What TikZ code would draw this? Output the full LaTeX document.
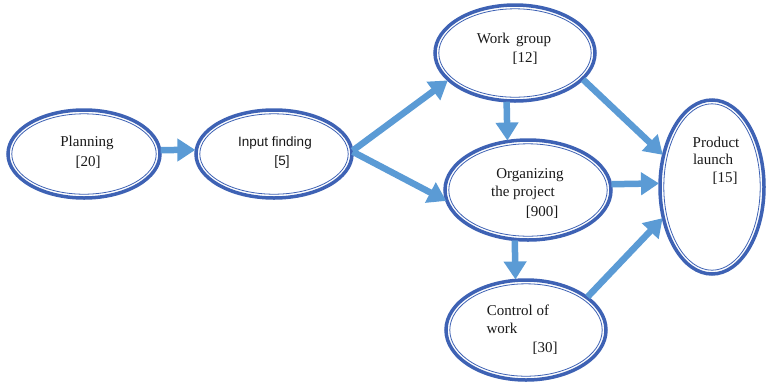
\documentclass[tikz,border=0pt]{standalone}
\usepackage{fontspec}
\setmainfont{Liberation Serif}
\newfontfamily\lsans{Liberation Sans}
\usetikzlibrary{arrows.meta,shapes.geometric}
\definecolor{ovalblue}{RGB}{62,98,180}
\definecolor{arrowblue}{RGB}{91,155,213}
\tikzset{
  oval/.style={ellipse, draw=ovalblue, line width=3.5pt, inner sep=0pt, outer sep=0pt, fill=white},
  inner/.style={draw=ovalblue, line width=0.8pt},
  lbl/.style={inner sep=0pt, font=\fontsize{15}{17}\selectfont, text=black!90},
  slbl/.style={inner sep=0pt, font=\lsans\fontsize{13.5}{15}\selectfont, text=black!90},
  flow/.style={draw=arrowblue, line width=6.5pt, -{Triangle[length=18pt,width=22pt]}, shorten >=1pt, shorten <=1pt}
}
\begin{document}
\begin{tikzpicture}[x=1pt,y=-1pt]
\useasboundingbox (0,0) rectangle (766,384);
% ellipses
\node[oval, minimum width=152pt, minimum height=88pt] (plan) at (84,154) {};
\node[oval, minimum width=156pt, minimum height=88pt] (input) at (274,154) {};
\node[oval, minimum width=160pt, minimum height=96pt] (work) at (515,53) {};
\node[oval, minimum width=166pt, minimum height=100pt] (org) at (528,190) {};
\node[oval, minimum width=160pt, minimum height=100pt] (ctrl) at (526,330) {};
\node[oval, minimum width=104pt, minimum height=174pt] (prod) at (712,187) {};
% inner lines of the double borders
\draw[inner] (plan.center) ellipse[x radius=72.2, y radius=40.2];
\draw[inner] (input.center) ellipse[x radius=74.2, y radius=40.2];
\draw[inner] (work.center) ellipse[x radius=76.2, y radius=44.2];
\draw[inner] (org.center) ellipse[x radius=79.2, y radius=46.2];
\draw[inner] (ctrl.center) ellipse[x radius=76.2, y radius=46.2];
\draw[inner] (prod.center) ellipse[x radius=48.2, y radius=83.2];
% texts
\node[lbl] (planA) at (87,143) {Planning};
\node[lbl] (planB) at (88,162) {[20]};
\node[slbl] (inA) at (275,143) {Input finding};
\node[slbl] (inB) at (282,162) {[5]};
\node[lbl] (wA) at (514,40) {Work\, group};
\node[lbl] (wB) at (525,58) {[12]};
\node[lbl] (oA) at (530,175) {Organizing};
\node[lbl] (oB) at (523,193) {the project};
\node[lbl] (oC) at (542,212) {[900]};
\node[lbl] (pA) at (716,142) {Product};
\node[lbl] (pB) at (713,159) {launch};
\node[lbl] (pC) at (725,178) {[15]};
\node[lbl] (cA) at (518,310) {Control of};
\node[lbl] (cB) at (502,328) {work};
\node[lbl] (cC) at (545,348) {[30]};
% connectors
\draw[flow] (plan.3) -- (input.177);
\draw[flow] (input.2) -- (work.202);
\draw[flow] (input.2) -- (org.188);
\draw[flow] (work.260) -- (org.113);
\draw[flow] (work.-21) -- (prod.147);
\draw[flow] (org.4) -- (prod.176);
\draw[flow] (org.255) -- (ctrl.102);
\draw[flow] (ctrl.28) -- (prod.212);
\end{tikzpicture}
\end{document}
